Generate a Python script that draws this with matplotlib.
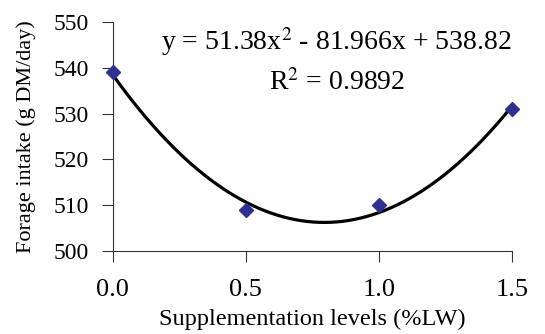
import numpy as np
import matplotlib.pyplot as plt

plt.rcParams['font.family'] = ['Liberation Serif', 'DejaVu Serif']
plt.rcParams['mathtext.fontset'] = 'stix'

# data
levels = [0.0, 0.5, 1.0, 1.5]
intake = [539, 509, 510, 531]
eq_text = 'y = 51.38x$^{2}$ - 81.966x + 538.82'
r2_text = 'R$^{2}$ = 0.9892'

fig = plt.figure(figsize=(5.45, 3.34), dpi=100)
ax = fig.add_axes([0.207, 0.249, 0.732, 0.685])

# second order trendline fitted to the points, like the spreadsheet did
coef = np.polyfit(levels, intake, 2)
xs = np.linspace(levels[0], levels[-1], 200)
ax.plot(xs, np.polyval(coef, xs), color='black', lw=2.3, zorder=2)

ax.plot(levels, intake, linestyle='none', marker='D', ms=7,
        color='#2e3192', zorder=3, clip_on=False)

ax.set_xlim(0, 1.5)
ax.set_ylim(500, 550)
ax.set_xticks([0, 0.5, 1.0, 1.5])
ax.set_xticklabels(['0.0', '0.5', '1.0', '1.5'])
ax.set_yticks(range(500, 551, 10))
ax.tick_params(length=8, width=0.8, color='#333333', direction='out')
ax.tick_params(axis='x', labelsize=19, pad=12)
ax.tick_params(axis='y', labelsize=17, pad=9)
for s in ['top', 'right']:
    ax.spines[s].set_visible(False)
for s in ['left', 'bottom']:
    ax.spines[s].set_linewidth(0.8)
    ax.spines[s].set_color('#333333')

ax.set_xlabel('Supplementation levels (%LW)', fontsize=17.5, labelpad=6)
ax.set_ylabel('Forage intake (g DM/day)', fontsize=16, labelpad=13)

ax.text(0.561, 0.913, eq_text, transform=ax.transAxes, ha='center', va='center', fontsize=20)
ax.text(0.561, 0.734, r2_text, transform=ax.transAxes, ha='center', va='center', fontsize=20)

fig.savefig('out.png', dpi=100)
